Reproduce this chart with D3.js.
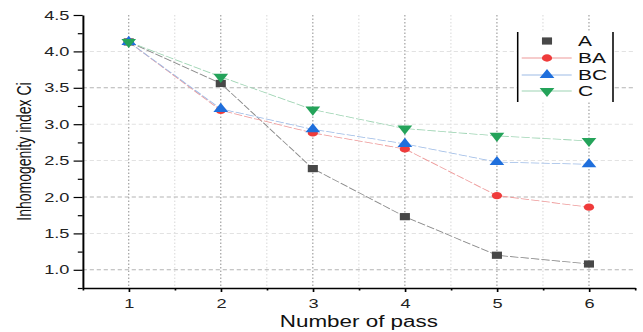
<!DOCTYPE html>
<html>
<head>
<meta charset="utf-8">
<script src="https://cdn.jsdelivr.net/npm/d3@7"></script>
<style>
  html, body { margin: 0; padding: 0; background: #fff; }
  svg { display: block; }
  text { font-family: "Liberation Sans", Arial, sans-serif; }
</style>
</head>
<body>
<div id="chart"></div>
<script>
// ---- data ----
const passes = [1, 2, 3, 4, 5, 6];
const seriesNames = ["A", "BA", "BC", "C"];
const valuesA  = [4.13, 3.56, 2.39, 1.73, 1.20, 1.08];
const valuesBA = [4.13, 3.19, 2.88, 2.66, 2.02, 1.86];
const valuesBC = [4.13, 3.21, 2.93, 2.73, 2.48, 2.45];
const valuesC  = [4.13, 3.65, 3.20, 2.94, 2.84, 2.77];
const yTicks = [1.0, 1.5, 2.0, 2.5, 3.0, 3.5, 4.0, 4.5];
const yMinorTicks = [0.75, 1.25, 1.75, 2.25, 2.75, 3.25, 3.75, 4.25];
const xMinorTicks = [0.5, 1.5, 2.5, 3.5, 4.5, 5.5, 6.5];
const yGridStrong = [1.0, 2.0, 3.5];
const yGridLight = [1.5, 2.5, 3.0, 4.0];
const xLabel = "Number of pass";
const yLabel = "Inhomogenity index Ci";

// ---- layout ----
const W = 643, H = 332, SX = 1.4;      // picture is stretched horizontally
const IW = W / SX;

const svg = d3.select("#chart").append("svg")
  .attr("width", W).attr("height", H)
  .attr("viewBox", `0 0 ${IW} ${H}`)
  .attr("preserveAspectRatio", "none");

const x = d3.scaleLinear().domain([0.5, 6.5]).range([82.7 / SX, 635 / SX]);
const y = d3.scaleLinear().domain([0.75, 4.5]).range([288, 15]);

// ---- grid ----
const grid = svg.append("g");
grid.selectAll("line.vminor").data(xMinorTicks.slice(1, -1)).join("line")
  .attr("x1", d => x(d)).attr("x2", d => x(d))
  .attr("y1", y(4.5)).attr("y2", y(0.75))
  .attr("stroke", "#dcdcdc").attr("stroke-width", 0.8).attr("stroke-dasharray", "1.5,2");
grid.selectAll("line.vmajor").data(passes).join("line")
  .attr("x1", d => x(d)).attr("x2", d => x(d))
  .attr("y1", y(4.5)).attr("y2", y(0.75))
  .attr("stroke", "#9a9a9a").attr("stroke-width", 0.8).attr("stroke-dasharray", "1.5,2");
grid.selectAll("line.hlight").data(yGridLight).join("line")
  .attr("x1", x(0.5)).attr("x2", x(6.5))
  .attr("y1", d => y(d)).attr("y2", d => y(d))
  .attr("stroke", "#e2e2e2").attr("stroke-width", 1).attr("stroke-dasharray", "3,2");
grid.selectAll("line.hstrong").data(yGridStrong).join("line")
  .attr("x1", x(0.5)).attr("x2", x(6.5))
  .attr("y1", d => y(d)).attr("y2", d => y(d))
  .attr("stroke", "#b4b4b4").attr("stroke-width", 1).attr("stroke-dasharray", "3,2");

// ---- axes ----
const xAxis = svg.append("g").attr("transform", `translate(0,${y(0.75)})`)
  .call(d3.axisBottom(x).tickValues(passes).tickSize(4).tickSizeOuter(0).tickPadding(7)
        .tickFormat(d3.format("d")));
const xMinor = svg.append("g").attr("transform", `translate(0,${y(0.75)})`)
  .call(d3.axisBottom(x).tickValues(xMinorTicks).tickSize(2.5).tickSizeOuter(0).tickFormat(""));
const yAxis = svg.append("g").attr("transform", `translate(${x(0.5)},0)`)
  .call(d3.axisLeft(y).tickValues(yTicks).tickSize(6.5).tickSizeOuter(0).tickPadding(3)
        .tickFormat(d3.format(".1f")));
const yMinor = svg.append("g").attr("transform", `translate(${x(0.5)},0)`)
  .call(d3.axisLeft(y).tickValues(yMinorTicks).tickSize(3.5).tickSizeOuter(0).tickFormat(""));

[xAxis, xMinor, yAxis, yMinor].forEach(g => {
  g.selectAll("path.domain").attr("stroke", "#000").attr("stroke-width", 1.4);
  g.selectAll(".tick line").attr("stroke", "#000").attr("stroke-width", 1.2);
  g.selectAll(".tick text").attr("fill", "#222").style("font-size", "13px")
    .style("font-family", "'Liberation Sans', Arial, sans-serif");
});
xMinor.select("path.domain").remove();
yMinor.select("path.domain").remove();

// axis titles
svg.append("text").attr("x", x(3.5)).attr("y", 327)
  .attr("text-anchor", "middle").style("font-size", "16px").attr("fill", "#111")
  .text(xLabel);
svg.append("text").attr("transform", `translate(22,${y(2.625)}) rotate(-90)`)
  .attr("text-anchor", "middle").style("font-size", "14px").attr("fill", "#111")
  .text(yLabel);

// ---- series ----
const series = [
  { name: seriesNames[0], values: valuesA,  color: "#484848", line: "#8a8a8a", sym: d3.symbolSquare,   size: 52, rot: 0,   legendLine: false },
  { name: seriesNames[1], values: valuesBA, color: "#ef3b3b", line: "#ee9a9a", sym: d3.symbolCircle,   size: 42, rot: 0,   legendLine: true },
  { name: seriesNames[2], values: valuesBC, color: "#1f6fdc", line: "#9dbbe6", sym: d3.symbolTriangle, size: 48, rot: 0,   legendLine: true },
  { name: seriesNames[3], values: valuesC,  color: "#24a35a", line: "#9ed4b3", sym: d3.symbolTriangle, size: 48, rot: 180, legendLine: true }
];

const line = d3.line().x((d, i) => x(passes[i])).y(d => y(d));

series.forEach(s => {
  svg.append("path").datum(s.values)
    .attr("d", line).attr("fill", "none")
    .attr("stroke", s.line).attr("stroke-width", 0.8)
    .attr("stroke-dasharray", "6,1.5");
});
series.forEach(s => {
  svg.append("g").selectAll("path").data(s.values).join("path")
    .attr("transform", (d, i) => `translate(${x(passes[i])},${y(d)}) rotate(${s.rot})`)
    .attr("d", d3.symbol().type(s.sym).size(s.size))
    .attr("fill", s.color);
});

// ---- legend ----
const lg = svg.append("g");
const lgLeft = 517.7 / SX, lgRight = 613 / SX, lgTop = 32, lgBottom = 102;
lg.append("rect").attr("x", lgLeft).attr("y", lgTop)
  .attr("width", lgRight - lgLeft).attr("height", lgBottom - lgTop).attr("fill", "#fff");
[lgLeft, lgRight].forEach(xx => lg.append("line")
  .attr("x1", xx).attr("x2", xx).attr("y1", lgTop).attr("y2", lgBottom)
  .attr("stroke", "#000").attr("stroke-width", 1.1));
const rowY = [41, 58, 75, 91];
series.forEach((s, i) => {
  const cy = rowY[i];
  if (s.legendLine) {
    lg.append("line").attr("x1", 521.7 / SX).attr("x2", 571.7 / SX)
      .attr("y1", cy).attr("y2", cy).attr("stroke", s.line).attr("stroke-width", 1.2);
  }
  lg.append("path").attr("transform", `translate(${547 / SX},${cy}) rotate(${s.rot})`)
    .attr("d", d3.symbol().type(s.sym).size(s.size)).attr("fill", s.color);
  lg.append("text").attr("x", 578 / SX).attr("y", cy + 5.5)
    .style("font-size", "15px").attr("fill", "#111").text(s.name);
});
</script>
</body>
</html>
